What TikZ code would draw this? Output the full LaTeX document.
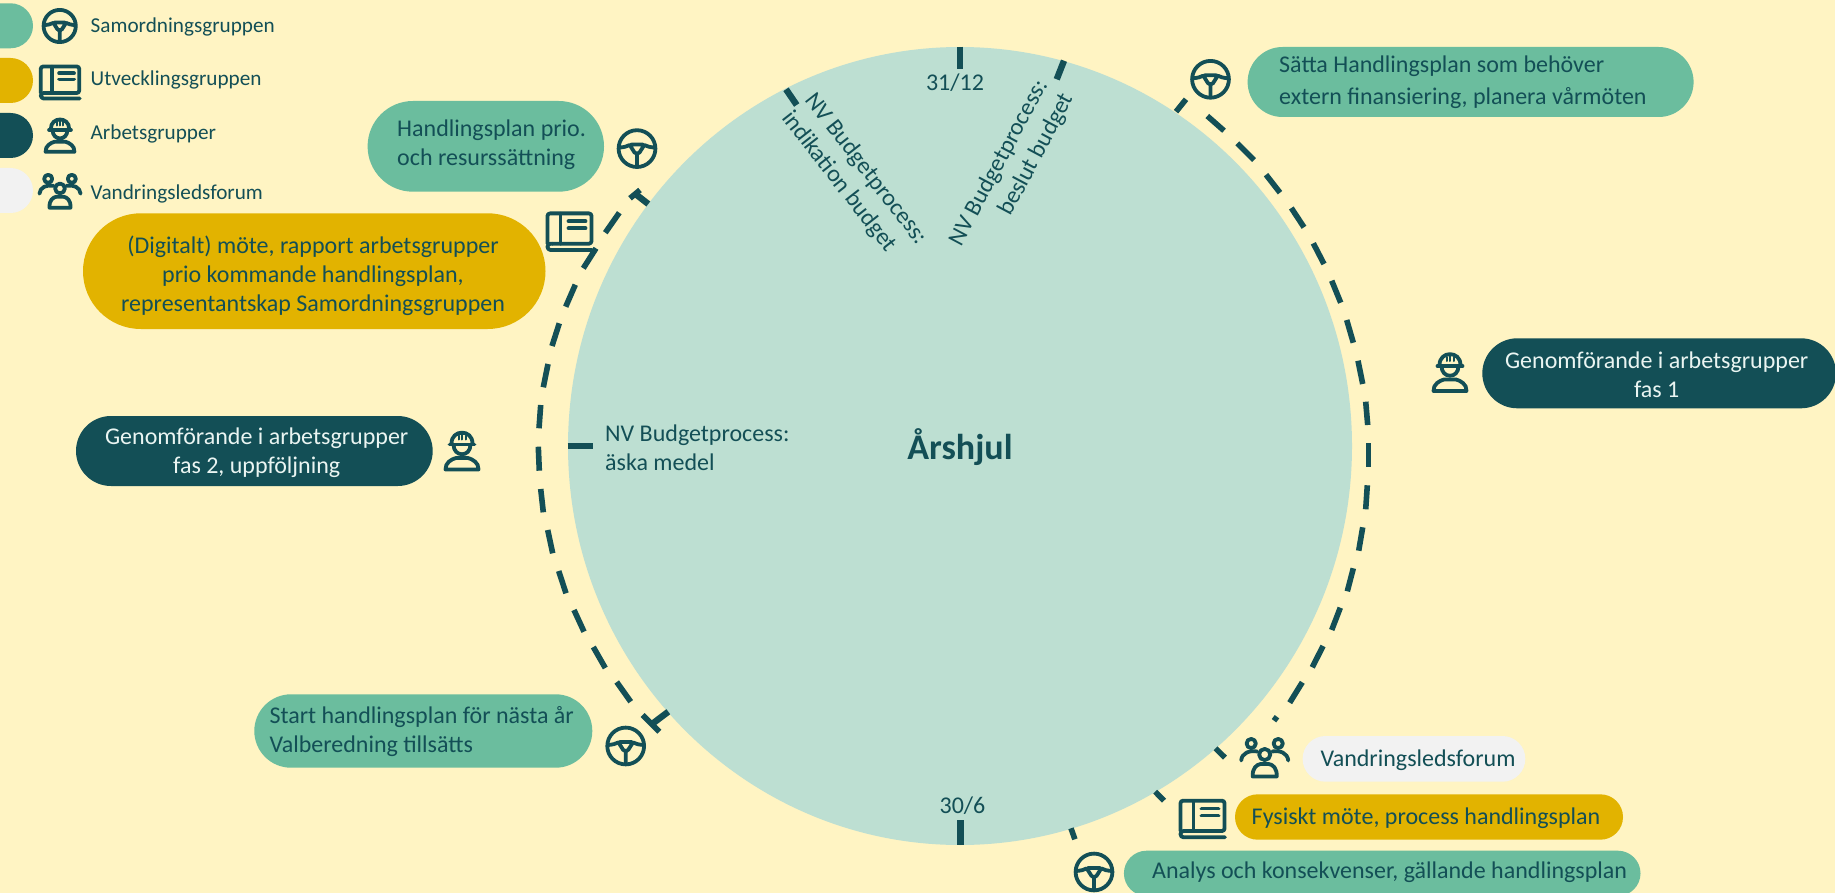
\documentclass[tikz,border=0pt]{standalone}
\usepackage{fontspec}
\setmainfont{Carlito}
\definecolor{bgc}{HTML}{FFF4C3}
\definecolor{wheelc}{HTML}{BDDFD2}
\definecolor{teal}{HTML}{6BBD9E}
\definecolor{gold}{HTML}{E2B300}
\definecolor{darkc}{HTML}{134F56}
\definecolor{lightc}{HTML}{F2F2F2}
\definecolor{pale}{HTML}{EAF5F2}
\newcommand{\pillbox}[6]{\pgfmathsetmacro{\rr}{abs(#6-#4)/2}\path[fill=#2,rounded corners=\rr pt] (#3,#4) rectangle (#5,#6);}
\tikzset{
 x=1pt,y=-1pt,
 lbl/.style={inner sep=0pt,text=darkc,font=\fontsize{24}{29}\selectfont,align=center},
 lbll/.style={lbl,align=left,anchor=west},
 legendlbl/.style={inner sep=0pt,text=darkc,font=\fontsize{21.2}{25}\selectfont,anchor=west},
 dashmark/.style={draw=darkc,line width=5.6pt},
 tickmark/.style={draw=darkc,line width=6.4pt},
 ico/.style={draw=darkc,line width=3.8pt,line cap=round,line join=round},
 wheelicon/.pic={
  \draw[ico] (0,0) circle[radius=18.4];
  \draw[ico,rounded corners=2pt] (-7.5,-4) -- (7.5,-4) -- (1.5,5.5) -- (-1.5,5.5) -- cycle;
  \draw[ico] (-17.5,-1) .. controls (-13,-1.5) and (-10,-2) .. (-7.5,-3.5) (17.5,-1) .. controls (13,-1.5) and (10,-2) .. (7.5,-3.5) (0,5.5) -- (0,17.5);
 },
 bookicon/.pic={
  \draw[ico,rounded corners=2.5pt] (-22,12) -- (-22,-18.3) -- (22,-18.3) -- (22,12) -- (-17,12);
  \draw[ico,rounded corners=3pt] (-17,12) -- (-22,12) -- (-22,18.3) -- (22.5,18.3);
  \draw[ico] (-9,-18) -- (-9,12);
  \draw[ico] (-1,-10.5) -- (16,-10.5) (-1,-3.5) -- (16,-3.5);
 },
 workericon/.pic={
  \draw[ico] (-10.5,-8) .. controls (-10.5,-22.5) and (10.5,-22.5) .. (10.5,-8);
  \draw[ico] (-12.5,-7) -- (12.5,-7);
  \draw[ico] (-8.5,-7) .. controls (-8.5,6) and (8.5,6) .. (8.5,-7);
  \draw[ico,line width=2pt] (0,-18) -- (0,-12) (-3.5,-16) -- (-3.5,-12) (3.5,-16) -- (3.5,-12);
  \draw[ico] (-16.5,18) .. controls (-17,11) and (-10,7.5) .. (-6,6.5) -- (6,6.5) .. controls (10,7.5) and (17,11) .. (16.5,18) -- cycle;
 },
 groupicon/.pic={
  \draw[ico] (-13.5,-14.5) circle[radius=4.6] (13.5,-14.5) circle[radius=4.6] (0,-3.5) circle[radius=5.6];
  \draw[ico] (-23.5,2.5) .. controls (-23,-5) and (-15,-8) .. (-7.5,-6.5);
  \draw[ico] (23.5,2.5) .. controls (23,-5) and (15,-8) .. (7.5,-6.5);
  \draw[ico] (-12,18.5) .. controls (-12.5,10) and (-8,6.5) .. (-4,6) -- (4,6) .. controls (8,6.5) and (12.5,10) .. (12,18.5) -- cycle;
 },
}
\begin{document}
\begin{tikzpicture}
\useasboundingbox (0,0) rectangle (1835,893);
\clip (0,0) rectangle (1835,893);
\fill[bgc] (0,0) rectangle (1835,893);
% wheel
\fill[wheelc] (960,446) ellipse [x radius=392,y radius=399];
% ticks on the wheel
\foreach \a/\b/\c/\d in {960/46.7/960/69.3, 960.3/820/960.3/845, 786/89.3/796.7/105, 1064/60.7/1056.7/79.3, 567.7/445.7/592.7/445.7, 648.3/204/636.7/195, 668.3/711.7/650.7/725}
  \draw[tickmark] (\a,\b) -- (\c,\d);
% dashed year marks
\foreach \a/\b/\c/\d in {1186/99.3/1176/111.7, 1207.3/116/1224/130.7, 1237.3/143.3/1254/160, 1266/174.7/1280/192.7, 1291.3/208/1304/227.3, 1313.3/243.3/1324/264, 1331.7/280.7/1340.7/302.7, 1346.7/320/1353.3/342.7, 1358/360.7/1362.7/384, 1365.7/401.7/1367.7/425, 1368.3/443.3/1368.3/467.3, 1367.3/485.3/1365.7/509.3, 1362.7/527.3/1358.7/550.7, 1353.3/568.3/1347.3/591.3, 1340.3/607.7/1331.7/630, 1323/646/1312.3/667.3, 1302.3/682.3/1289.7/702.7, 1277/716.7/1274/720.7, 1215.5/748.3/1225/757.7, 1155.2/791.7/1164/800.7, 1071/828.3/1074.9/839.3,
 630/198.3/640/190, 619.3/212.7/605.3/232.7, 596/248.3/583.3/268.3, 575.3/284.7/565.7/306.7, 559.3/323.3/552/346, 548/364/543.3/387.3, 540.7/405/539/428.3, 538.3/446.7/539.3/470.7, 540.7/489/543.3/512.3, 547.7/530/552.7/553.3, 558.7/571/566/593.3, 574/610/584/631.7, 593.3/647/605.3/668, 616.7/682/630.7/701.7, 642.7/715/659.3/731.7}
  \draw[dashmark] (\a,\b) -- (\c,\d);
% pills
\pillbox{l1}{teal}{-60}{3.3}{33}{48.3}
\pillbox{l2}{gold}{-60}{58}{33}{103}
\pillbox{l3}{darkc}{-60}{113}{33}{158}
\pillbox{l4}{lightc}{-60}{168}{33}{213}
\pillbox{p1}{teal}{367.6}{101}{604}{191.7}
\pillbox{p2}{gold}{83}{213.3}{545.5}{329}
\pillbox{p3}{teal}{1247.6}{47}{1693.6}{117}
\pillbox{p4}{darkc}{1482.3}{338.3}{1836}{408.3}
\pillbox{p5}{darkc}{76}{416}{432.7}{486}
\pillbox{p6}{teal}{254.3}{694.3}{592.3}{767.7}
\pillbox{p7}{lightc}{1302.6}{736}{1525.3}{781.7}
\pillbox{p8}{gold}{1235}{794.3}{1623}{839.7}
\pillbox{p9}{teal}{1123.9}{850.7}{1640.5}{896}
% icons
\pic[scale=.875] at (59.7,26) {wheelicon};
\pic[scale=.875] at (60,82.5) {bookicon};
\pic[scale=.875] at (60,136) {workericon};
\pic[scale=.875] at (60,191.5) {groupicon};
\pic at (637,148.6) {wheelicon};
\pic at (569.5,231.7) {bookicon};
\pic at (1210.5,79.3) {wheelicon};
\pic at (1450,373) {workericon};
\pic at (462,451.5) {workericon};
\pic at (625.7,746) {wheelicon};
\pic at (1264.7,758) {groupicon};
\pic at (1202.5,819) {bookicon};
\pic at (1094,872) {wheelicon};
% legend text
\node[legendlbl] (t1) at (90.5,27) {Samordningsgruppen};
\node[legendlbl] (t2) at (90.5,79.5) {Utvecklingsgruppen};
\node[legendlbl] (t3) at (90.5,133.5) {Arbetsgrupper};
\node[legendlbl] (t4) at (90.5,193.5) {Vandringsledsforum};
% labels
\node[lbll] (a1) at (397,145) {Handlingsplan prio.\\och resurssättning};
\node[lbl] (a2) at (313,275.5) {(Digitalt) möte, rapport arbetsgrupper\\prio kommande handlingsplan,\\representantskap Samordningsgruppen};
\node[lbll] (a3) at (1279,82) {Sätta Handlingsplan som behöver\\[2.5pt]extern finansiering, planera vårmöten};
\node[lbl,text=pale] (a4) at (1656.7,375) {Genomförande i arbetsgrupper\\fas 1};
\node[lbl,text=pale] (a5) at (256.7,453) {Genomförande i arbetsgrupper\\fas 2, uppföljning};
\node[lbll] (a6) at (269.3,731.5) {Start handlingsplan för nästa år\\Valberedning tillsätts};
\node[lbl] (a7) at (1418,760) {Vandringsledsforum};
\node[lbl] (a8) at (1426,818) {Fysiskt möte, process handlingsplan};
\node[lbl] (a9) at (1389.6,872.7) {Analys och konsekvenser, gällande handlingsplan};
\node[lbl] (c1) at (955,83) {31/12};
\node[lbl] (c2) at (962.5,806) {30/6};
\node[lbll] (c3) at (605,447.5) {NV Budgetprocess:\\äska medel};
\node[lbl,align=left,rotate=-52] (c4) at (854.3,178) {NV Budgetprocess:\\indikation budget};
\node[lbl,align=right,rotate=62] (c5) at (1012,170) {NV Budgetprocess:\\beslut budget};
\node[inner sep=0pt,text=darkc,font=\fontsize{36}{40}\selectfont\bfseries] (c6) at (960,447) {Årshjul};
\end{tikzpicture}
\end{document}
